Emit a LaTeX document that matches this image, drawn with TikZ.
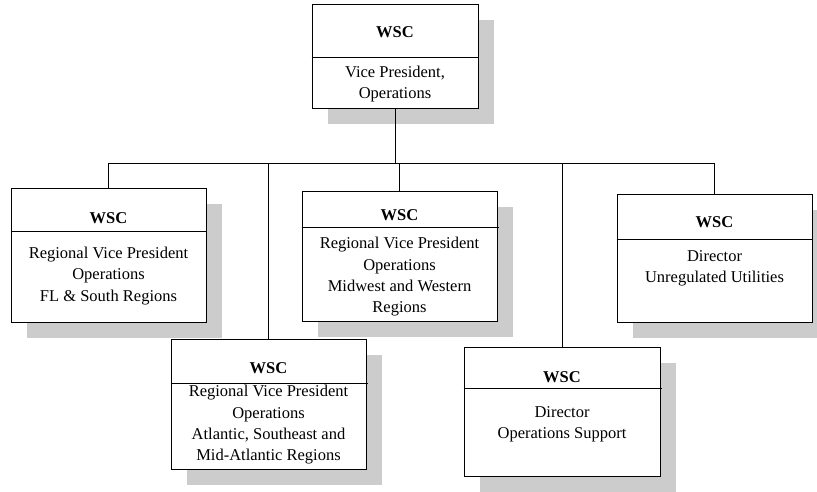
\documentclass[tikz,border=0pt]{standalone}
\usepackage{fontspec}
\setmainfont{Liberation Serif}
\usetikzlibrary{shadows}
\definecolor{shadowc}{RGB}{204,204,204}
\tikzset{
  x=1pt, y=-1pt,
  orgbox/.style={draw=black, line width=0.9pt, fill=white, inner sep=0pt,
    drop shadow={shadow xshift=16pt, shadow yshift=-16pt, fill=shadowc, opacity=1}},
  title/.style={font=\fontsize{16.5}{18}\selectfont\bfseries, inner sep=0pt},
  body/.style={font=\fontsize{16.5}{21.3}\selectfont, align=center, inner sep=0pt},
  conn/.style={line width=0.9pt},
  divider/.style={line width=0.9pt}
}
\begin{document}
\begin{tikzpicture}
\useasboundingbox (0,0) rectangle (817,492);
% boxes
\node[orgbox, minimum width=166pt, minimum height=104pt] (top) at (395,56) {};
\node[orgbox, minimum width=195pt, minimum height=134pt] (b1) at (108.5,255) {};
\node[orgbox, minimum width=195pt, minimum height=130pt] (b3) at (399.5,256) {};
\node[orgbox, minimum width=195pt, minimum height=130pt] (b4) at (268.5,404) {};
\node[orgbox, minimum width=196pt, minimum height=129pt] (b5) at (562,411.5) {};
\node[orgbox, minimum width=195pt, minimum height=128pt] (b6) at (714.5,258) {};
% dividers
\draw[divider] (top.west |- 0,57) -- (top.east |- 0,57);
\draw[divider] (b1.west |- 0,231) -- (b1.east |- 0,231);
\draw[divider] (b3.west |- 0,227) -- ([xshift=2pt]b3.east |- 0,227);
\draw[divider] (b4.west |- 0,383) -- ([xshift=2pt]b4.east |- 0,383);
\draw[divider] (b5.west |- 0,388) -- ([xshift=2pt]b5.east |- 0,388);
\draw[divider] (b6.west |- 0,239) -- (b6.east |- 0,239);
% texts
\node[title] (t0) at (395,32) {WSC};
\node[body] (d0) at (395,84) {Vice President,\\Operations};
\node[title] (t1) at (108.5,218) {WSC};
\node[body] (d1) at (108.5,276) {Regional Vice President\\Operations\\FL \& South Regions};
\node[title] (t3) at (399.5,215) {WSC};
\node[body] (d3) at (399.5,277) {Regional Vice President\\Operations\\Midwest and Western\\Regions};
\node[title] (t4) at (268.5,368) {WSC};
\node[body] (d4) at (268.5,425) {Regional Vice President\\Operations\\Atlantic, Southeast and\\Mid-Atlantic Regions};
\node[title] (t5) at (562,377) {WSC};
\node[body] (d5) at (562,424) {Director\\Operations Support};
\node[title] (t6) at (714.5,222) {WSC};
\node[body] (d6) at (714.5,268) {Director\\Unregulated Utilities};
% connectors
\coordinate (bus) at (396,163);
\draw[conn] (top.south) -- (top.south |- bus);
\draw[conn] (b1.north) -- (b1.north |- bus) -- (b6.north |- bus) -- (b6.north);
\draw[conn] (b3.north) -- (b3.north |- bus);
\draw[conn] (b4.north) -- (b4.north |- bus);
\draw[conn] (b5.north) -- (b5.north |- bus);
\end{tikzpicture}
\end{document}
